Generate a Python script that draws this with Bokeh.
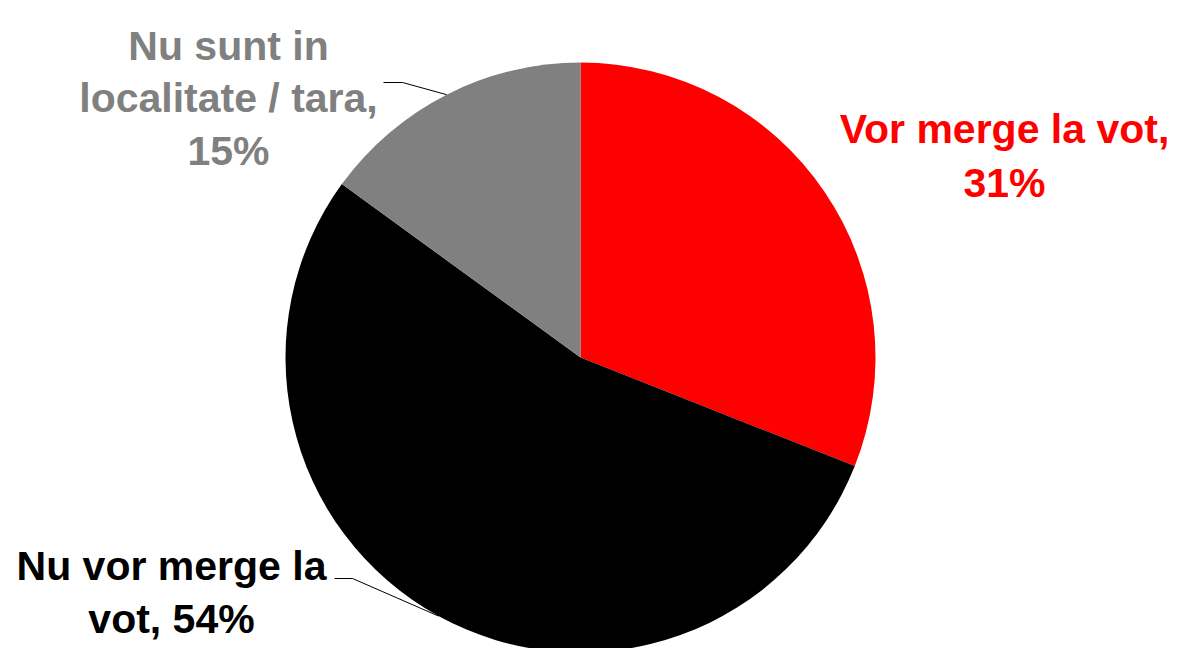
import math
from bokeh.plotting import figure
from bokeh.models import Range1d, ColumnDataSource
from bokeh.core.properties import value
from bokeh.embed import file_html
from bokeh.resources import INLINE

# ---- data ----
categories = ["Vor merge la vot", "Nu vor merge la vot", "Nu sunt in localitate / tara"]
shares = [31, 54, 15]
colors = ["#FF0000", "#000000", "#808080"]
label_lines = [
    ["Vor merge la vot,", "31%"],
    ["Nu vor merge la", "vot, 54%"],
    ["Nu sunt in", "localitate / tara,", "15%"],
]

# ---- layout (image pixel coordinates, y downward) ----
W, H = 1180, 648
CX, CY, R = 580, 357, 295
label_centers_x = [1004, 171, 228]
label_first_baseline = [128, 565, 45]
line_step = [54, 53, 52.5]
# leader lines: (label-side start x, y, elbow x) ; None = no leader
leaders = [None, (334, 578, 352), (383, 82, 402)]

def fy(y):
    return H - y

p = figure(width=W, height=H, output_backend="svg", toolbar_location=None,
           x_range=Range1d(0, W), y_range=Range1d(fy(H), fy(0)),
           min_border=0, outline_line_color=None)
p.axis.visible = False
p.grid.visible = False
p.background_fill_color = "white"
p.border_fill_color = "white"

total = sum(shares)
starts, ends, mids = [], [], []
cum = 0
for s in shares:
    a_end = math.radians(90 - cum / total * 360)
    cum += s
    a_start = math.radians(90 - cum / total * 360)
    starts.append(a_start)
    ends.append(a_end)
    mids.append((a_start + a_end) / 2)

src = ColumnDataSource(dict(x=[CX] * 3, y=[fy(CY)] * 3, start=starts, end=ends, color=colors))
p.wedge(x="x", y="y", radius=R, start_angle="start", end_angle="end",
        fill_color="color", line_color=None, source=src)

# leader lines
for i, ld in enumerate(leaders):
    if ld is None:
        continue
    sx, sy, ex = ld
    px = CX + R * math.cos(mids[i])
    py = CY - R * math.sin(mids[i])
    p.line(x=[sx, ex, px], y=[fy(sy), fy(sy), fy(py)], line_color="black", line_width=1)

# labels
for i, lines in enumerate(label_lines):
    xs, ys = [], []
    for k, t in enumerate(lines):
        xs.append(label_centers_x[i])
        ys.append(fy(label_first_baseline[i] + k * line_step[i]))
    p.text(x=xs, y=ys, text=lines, text_color=colors[i], text_align="center",
           text_baseline="alphabetic", text_font=value("Liberation Sans"),
           text_font_style="bold", text_font_size="41px")

open("out.html", "w").write(file_html(p, INLINE))
